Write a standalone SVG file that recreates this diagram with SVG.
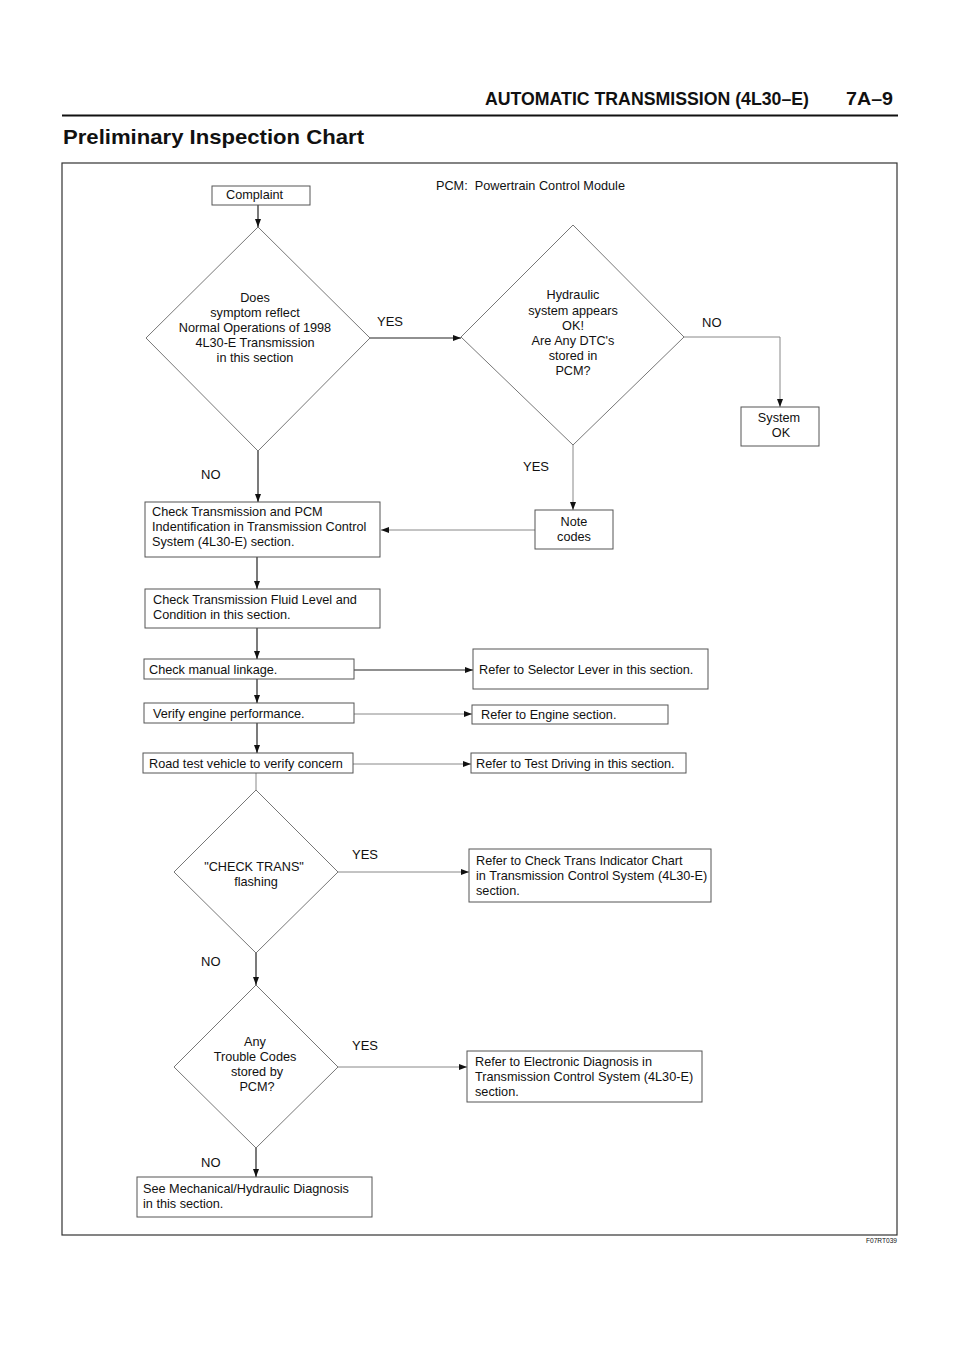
<svg xmlns="http://www.w3.org/2000/svg" width="960" height="1358" viewBox="0 0 960 1358">
<defs>
<style>
text{font-family:"Liberation Sans",Arial,Helvetica,sans-serif;fill:#111;}
.t{font-size:12.7px;}
.m{text-anchor:middle;}
.lbl{font-size:13px;}
.box{fill:#fff;stroke:#555;stroke-width:1;}
.dia{fill:#fff;stroke:#777;stroke-width:1;}
.cd{fill:none;stroke:#222;stroke-width:1.2;}
.cl{fill:none;stroke:#888;stroke-width:1;}
</style>
<marker id="ah" markerUnits="userSpaceOnUse" markerWidth="9" markerHeight="6" refX="8" refY="3" orient="auto">
<path d="M0,0 L8,3 L0,6 z" fill="#111"/>
</marker>
</defs>
<rect width="960" height="1358" fill="#fff"/>
<g id="header">
<text x="485" y="105" font-size="18" font-weight="bold" textLength="324" lengthAdjust="spacingAndGlyphs">AUTOMATIC TRANSMISSION (4L30–E)</text>
<text x="846" y="105" font-size="18" font-weight="bold" textLength="47" lengthAdjust="spacingAndGlyphs">7A–9</text>
<line x1="62" y1="115.5" x2="898" y2="115.5" stroke="#111" stroke-width="2.2"/>
<text x="63" y="144" font-size="21" font-weight="bold" textLength="301" lengthAdjust="spacingAndGlyphs">Preliminary Inspection Chart</text>
<rect x="62" y="163" width="835" height="1072" fill="none" stroke="#333" stroke-width="1.2"/>
<text x="866" y="1243" font-size="6.5" textLength="31" lengthAdjust="spacingAndGlyphs">F07RT039</text>
<text class="t" x="436" y="190">PCM:&#160; Powertrain Control Module</text>
</g>
<g id="connectors">
<line class="cd" x1="258" y1="205" x2="258" y2="227" marker-end="url(#ah)"/>
<line class="cd" x1="370" y1="338" x2="461" y2="338" marker-end="url(#ah)"/>
<polyline class="cl" points="684,337 780,337 780,407" marker-end="url(#ah)"/>
<line class="cl" x1="573" y1="445" x2="573" y2="510" marker-end="url(#ah)"/>
<line class="cd" x1="258" y1="451" x2="258" y2="502" marker-end="url(#ah)"/>
<line class="cl" x1="535" y1="530" x2="381" y2="530" marker-end="url(#ah)"/>
<line class="cd" x1="257" y1="557" x2="257" y2="589" marker-end="url(#ah)"/>
<line class="cd" x1="257" y1="628" x2="257" y2="659" marker-end="url(#ah)"/>
<line class="cd" x1="354" y1="670" x2="473" y2="670" marker-end="url(#ah)"/>
<line class="cd" x1="257" y1="679" x2="257" y2="703" marker-end="url(#ah)"/>
<line class="cl" x1="354" y1="714" x2="472" y2="714" marker-end="url(#ah)"/>
<line class="cd" x1="257" y1="723" x2="257" y2="753" marker-end="url(#ah)"/>
<line class="cl" x1="353" y1="764" x2="471" y2="764" marker-end="url(#ah)"/>
<line class="cl" x1="256" y1="773" x2="256" y2="790"/>
<line class="cl" x1="337" y1="872" x2="469" y2="872" marker-end="url(#ah)"/>
<line class="cd" x1="256" y1="953" x2="256" y2="985" marker-end="url(#ah)"/>
<line class="cl" x1="337" y1="1067" x2="467" y2="1067" marker-end="url(#ah)"/>
<line class="cd" x1="256" y1="1148" x2="256" y2="1177" marker-end="url(#ah)"/>
</g>
<g id="labels">
<text class="lbl" x="377" y="326">YES</text>
<text class="lbl" x="702" y="327">NO</text>
<text class="lbl" x="523" y="471">YES</text>
<text class="lbl" x="201" y="479">NO</text>
<text class="lbl" x="352" y="859">YES</text>
<text class="lbl" x="201" y="966">NO</text>
<text class="lbl" x="352" y="1050">YES</text>
<text class="lbl" x="201" y="1167">NO</text>
</g>
<g id="complaint">
<rect class="box" x="212" y="186" width="98" height="19"/>
<text class="t" x="226" y="199">Complaint</text>
</g>
<g id="d1">
<polygon class="dia" points="258,227 370,338 258,451 146,338"/>
<text class="t m" x="255" y="302">Does</text>
<text class="t m" x="255" y="317">symptom reflect</text>
<text class="t m" x="255" y="332">Normal Operations of 1998</text>
<text class="t m" x="255" y="347">4L30-E Transmission</text>
<text class="t m" x="255" y="362">in this section</text>
</g>
<g id="d2">
<polygon class="dia" points="573,225 684,337 573,445 461,337"/>
<text class="t m" x="573" y="299">Hydraulic</text>
<text class="t m" x="573" y="315">system appears</text>
<text class="t m" x="573" y="330">OK!</text>
<text class="t m" x="573" y="345">Are Any DTC's</text>
<text class="t m" x="573" y="360">stored in</text>
<text class="t m" x="573" y="375">PCM?</text>
</g>
<g id="systemok">
<rect class="box" x="741" y="407" width="78" height="39"/>
<text class="t m" x="779" y="422">System</text>
<text class="t m" x="781" y="437">OK</text>
</g>
<g id="notecodes">
<rect class="box" x="535" y="510" width="78" height="39"/>
<text class="t m" x="574" y="526">Note</text>
<text class="t m" x="574" y="541">codes</text>
</g>
<g id="checkpcm">
<rect class="box" x="145" y="502" width="235" height="55"/>
<text class="t" x="152" y="516">Check Transmission and PCM</text>
<text class="t" x="152" y="531">Indentification in Transmission Control</text>
<text class="t" x="152" y="546">System (4L30-E) section.</text>
</g>
<g id="fluid">
<rect class="box" x="145" y="589" width="235" height="39"/>
<text class="t" x="153" y="604">Check Transmission Fluid Level and</text>
<text class="t" x="153" y="619">Condition in this section.</text>
</g>
<g id="linkage">
<rect class="box" x="144" y="659" width="210" height="20"/>
<text class="t" x="149" y="674">Check manual linkage.</text>
</g>
<g id="selector">
<rect class="box" x="473" y="649" width="235" height="40"/>
<text class="t" x="479" y="674">Refer to Selector Lever in this section.</text>
</g>
<g id="engineperf">
<rect class="box" x="144" y="703" width="210" height="20"/>
<text class="t" x="153" y="718">Verify engine performance.</text>
</g>
<g id="engine">
<rect class="box" x="472" y="705" width="196" height="19"/>
<text class="t" x="481" y="719">Refer to Engine section.</text>
</g>
<g id="roadtest">
<rect class="box" x="143" y="753" width="210" height="20"/>
<text class="t" x="149" y="768">Road test vehicle to verify concern</text>
</g>
<g id="testdriving">
<rect class="box" x="471" y="753" width="215" height="20"/>
<text class="t" x="476" y="768">Refer to Test Driving in this section.</text>
</g>
<g id="d3">
<polygon class="dia" points="256,790 338,872 256,953 174,872"/>
<text class="t m" x="254" y="871">"CHECK TRANS"</text>
<text class="t m" x="256" y="886">flashing</text>
</g>
<g id="checktrans">
<rect class="box" x="469" y="849" width="242" height="53"/>
<text class="t" x="476" y="865">Refer to Check Trans Indicator Chart</text>
<text class="t" x="476" y="880">in Transmission Control System (4L30-E)</text>
<text class="t" x="476" y="895">section.</text>
</g>
<g id="d4">
<polygon class="dia" points="256,985 338,1067 256,1148 174,1067"/>
<text class="t m" x="255" y="1046">Any</text>
<text class="t m" x="255" y="1061">Trouble Codes</text>
<text class="t m" x="257" y="1076">stored by</text>
<text class="t m" x="257" y="1091">PCM?</text>
</g>
<g id="electronic">
<rect class="box" x="467" y="1051" width="235" height="51"/>
<text class="t" x="475" y="1066">Refer to Electronic Diagnosis in</text>
<text class="t" x="475" y="1081">Transmission Control System (4L30-E)</text>
<text class="t" x="475" y="1096">section.</text>
</g>
<g id="mechanical">
<rect class="box" x="137" y="1177" width="235" height="40"/>
<text class="t" x="143" y="1193">See Mechanical/Hydraulic Diagnosis</text>
<text class="t" x="143" y="1208">in this section.</text>
</g>
</svg>
